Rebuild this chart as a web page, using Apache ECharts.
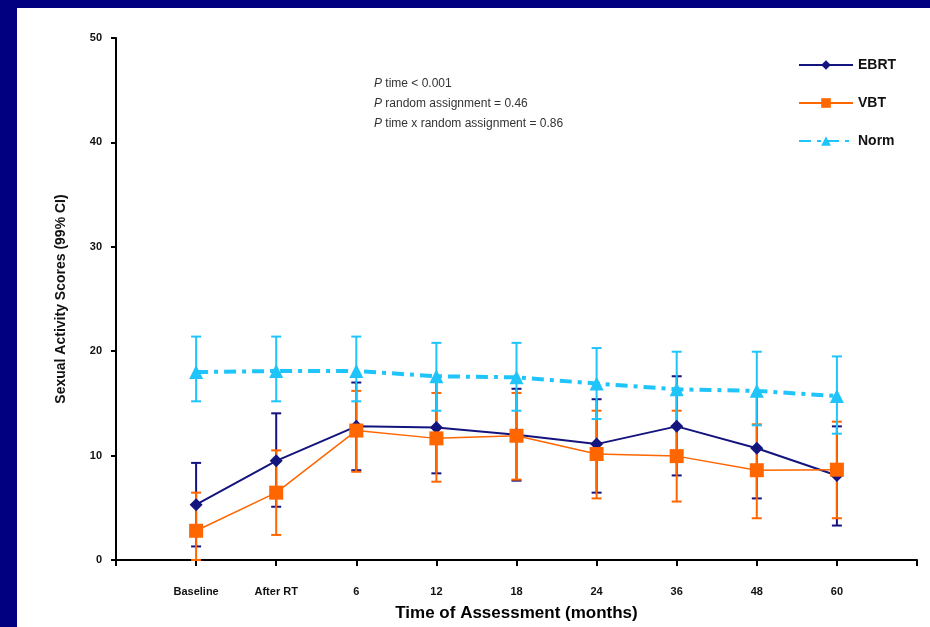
<!DOCTYPE html>
<html>
<head>
<meta charset="utf-8">
<script src="https://cdn.jsdelivr.net/npm/echarts@6/dist/echarts.min.js"></script>
<style>
html,body{margin:0;padding:0;background:#000080;width:930px;height:627px;overflow:hidden;}
#panel{position:absolute;left:17px;top:8px;width:913px;height:619px;background:#ffffff;}
#chart{position:absolute;left:0;top:0;width:930px;height:627px;}
</style>
</head>
<body>
<div id="panel"></div>
<div id="chart"></div>
<script>
var categories = ['', 'Baseline', 'After RT', '6', '12', '18', '24', '36', '48', '60', ' '];
var points = ['Baseline', 'After RT', '6', '12', '18', '24', '36', '48', '60'];
var yTicks = [0, 10, 20, 30, 40, 50];

var ebrt     = [5.3, 9.5, 12.8, 12.7, 12.0, 11.1, 12.8, 10.7, 8.1];
var ebrtLow  = [1.3, 5.1, 8.6, 8.3, 7.6, 6.45, 8.1, 5.9, 3.3];
var ebrtHigh = [9.3, 14.05, 17.0, 17.1, 16.4, 15.4, 17.6, 15.8, 12.8];

var vbt      = [2.8, 6.45, 12.4, 11.65, 11.9, 10.15, 9.95, 8.6, 8.65];
var vbtLow   = [0.0, 2.4, 8.45, 7.5, 7.7, 5.9, 5.6, 4.0, 4.0];
var vbtHigh  = [6.45, 10.5, 16.2, 16.0, 16.0, 14.3, 14.3, 13.0, 13.25];

var norm     = [18.0, 18.1, 18.1, 17.6, 17.5, 16.9, 16.35, 16.2, 15.7];
var normLow  = [15.2, 15.2, 15.2, 14.3, 14.3, 13.5, 12.8, 12.9, 12.1];
var normHigh = [21.4, 21.4, 21.4, 20.8, 20.8, 20.3, 19.95, 19.95, 19.5];

var C_EBRT = '#14147F';
var C_VBT = '#FF6600';
var C_NORM = '#1EC4FA';
var FONT = 'Liberation Sans, Arial, sans-serif';

function pairs(vals) { return points.map(function (p, i) { return [p, vals[i]]; }); }
function bars(lo, hi) { return points.map(function (p, i) { return [p, lo[i], hi[i]]; }); }

function errorSeries(name, color, lo, hi, z) {
  return {
    type: 'custom',
    name: name + '-ci',
    z: z,
    silent: true,
    encode: { x: 0, y: [1, 2] },
    data: bars(lo, hi),
    renderItem: function (params, api) {
      var x = api.value(0);
      var a = api.coord([x, api.value(1)]);
      var b = api.coord([x, api.value(2)]);
      var half = 5;
      var st = { stroke: color, lineWidth: 2 };
      return {
        type: 'group',
        children: [
          { type: 'line', shape: { x1: a[0], y1: a[1], x2: b[0], y2: b[1] }, style: st },
          { type: 'line', shape: { x1: a[0] - half, y1: a[1], x2: a[0] + half, y2: a[1] }, style: st },
          { type: 'line', shape: { x1: b[0] - half, y1: b[1], x2: b[0] + half, y2: b[1] }, style: st }
        ]
      };
    }
  };
}

var chart = echarts.init(document.getElementById('chart'), null, { renderer: 'canvas' });
chart.setOption({
  backgroundColor: 'transparent',
  animation: false,
  textStyle: { fontFamily: FONT },
  grid: { left: 116, right: 13, top: 38, bottom: 67, containLabel: false },
  legend: {
    orient: 'vertical',
    left: 793,
    top: 53,
    itemWidth: 54,
    itemHeight: 12,
    itemGap: 24,
    data: ['EBRT', 'VBT', 'Norm'],
    textStyle: { color: '#111', fontWeight: 'bold', fontSize: 14, fontFamily: FONT }
  },
  xAxis: {
    type: 'category',
    data: categories,
    boundaryGap: false,
    name: 'Time of Assessment (months)',
    nameLocation: 'middle',
    nameGap: 45,
    nameTextStyle: { color: '#000', fontWeight: 'bold', fontSize: 17, fontFamily: FONT },
    axisLine: { lineStyle: { color: '#000', width: 2 } },
    axisTick: { show: true, alignWithLabel: true, length: 6, lineStyle: { color: '#000', width: 2 }, interval: 0 },
    axisLabel: { interval: 0, margin: 26, color: '#111', fontWeight: 'bold', fontSize: 11 },
    splitLine: { show: false }
  },
  yAxis: {
    type: 'value',
    min: yTicks[0],
    max: yTicks[yTicks.length - 1],
    interval: 10,
    name: 'Sexual Activity Scores (99% CI)',
    nameLocation: 'middle',
    nameGap: 48,
    nameRotate: 90,
    nameTextStyle: { color: '#111', fontWeight: 'bold', fontSize: 14, fontFamily: FONT },
    axisLine: { show: true, lineStyle: { color: '#000', width: 2 } },
    axisTick: { show: true, length: 5, lineStyle: { color: '#000', width: 2 } },
    axisLabel: { margin: 14, color: '#111', fontWeight: 'bold', fontSize: 11 },
    splitLine: { show: false }
  },
  graphic: [
    {
      type: 'text',
      left: 374,
      top: 74,
      style: {
        text: '{i|P} time < 0.001\n{i|P} random assignment = 0.46\n{i|P} time x random assignment = 0.86',
        fill: '#333',
        font: '12px Liberation Sans, Arial, sans-serif',
        lineHeight: 20,
        rich: {
          i: { fontStyle: 'italic', fontSize: 12, fill: '#333', fontFamily: FONT }
        }
      }
    }
  ],
  series: [
    errorSeries('EBRT', C_EBRT, ebrtLow, ebrtHigh, 2),
    errorSeries('VBT', C_VBT, vbtLow, vbtHigh, 3),
    errorSeries('Norm', C_NORM, normLow, normHigh, 4),
    {
      name: 'EBRT', type: 'line', z: 5,
      data: pairs(ebrt),
      symbol: 'diamond', symbolSize: 13,
      itemStyle: { color: C_EBRT },
      lineStyle: { color: C_EBRT, width: 2 }
    },
    {
      name: 'VBT', type: 'line', z: 6,
      data: pairs(vbt),
      symbol: 'rect', symbolSize: 14,
      itemStyle: { color: C_VBT },
      lineStyle: { color: C_VBT, width: 1.5 }
    },
    {
      name: 'Norm', type: 'line', z: 7,
      data: pairs(norm),
      symbol: 'triangle', symbolSize: 14,
      itemStyle: { color: C_NORM },
      lineStyle: { color: C_NORM, width: 4, type: [12, 6, 4, 6] }
    }
  ]
});
</script>
</body>
</html>
